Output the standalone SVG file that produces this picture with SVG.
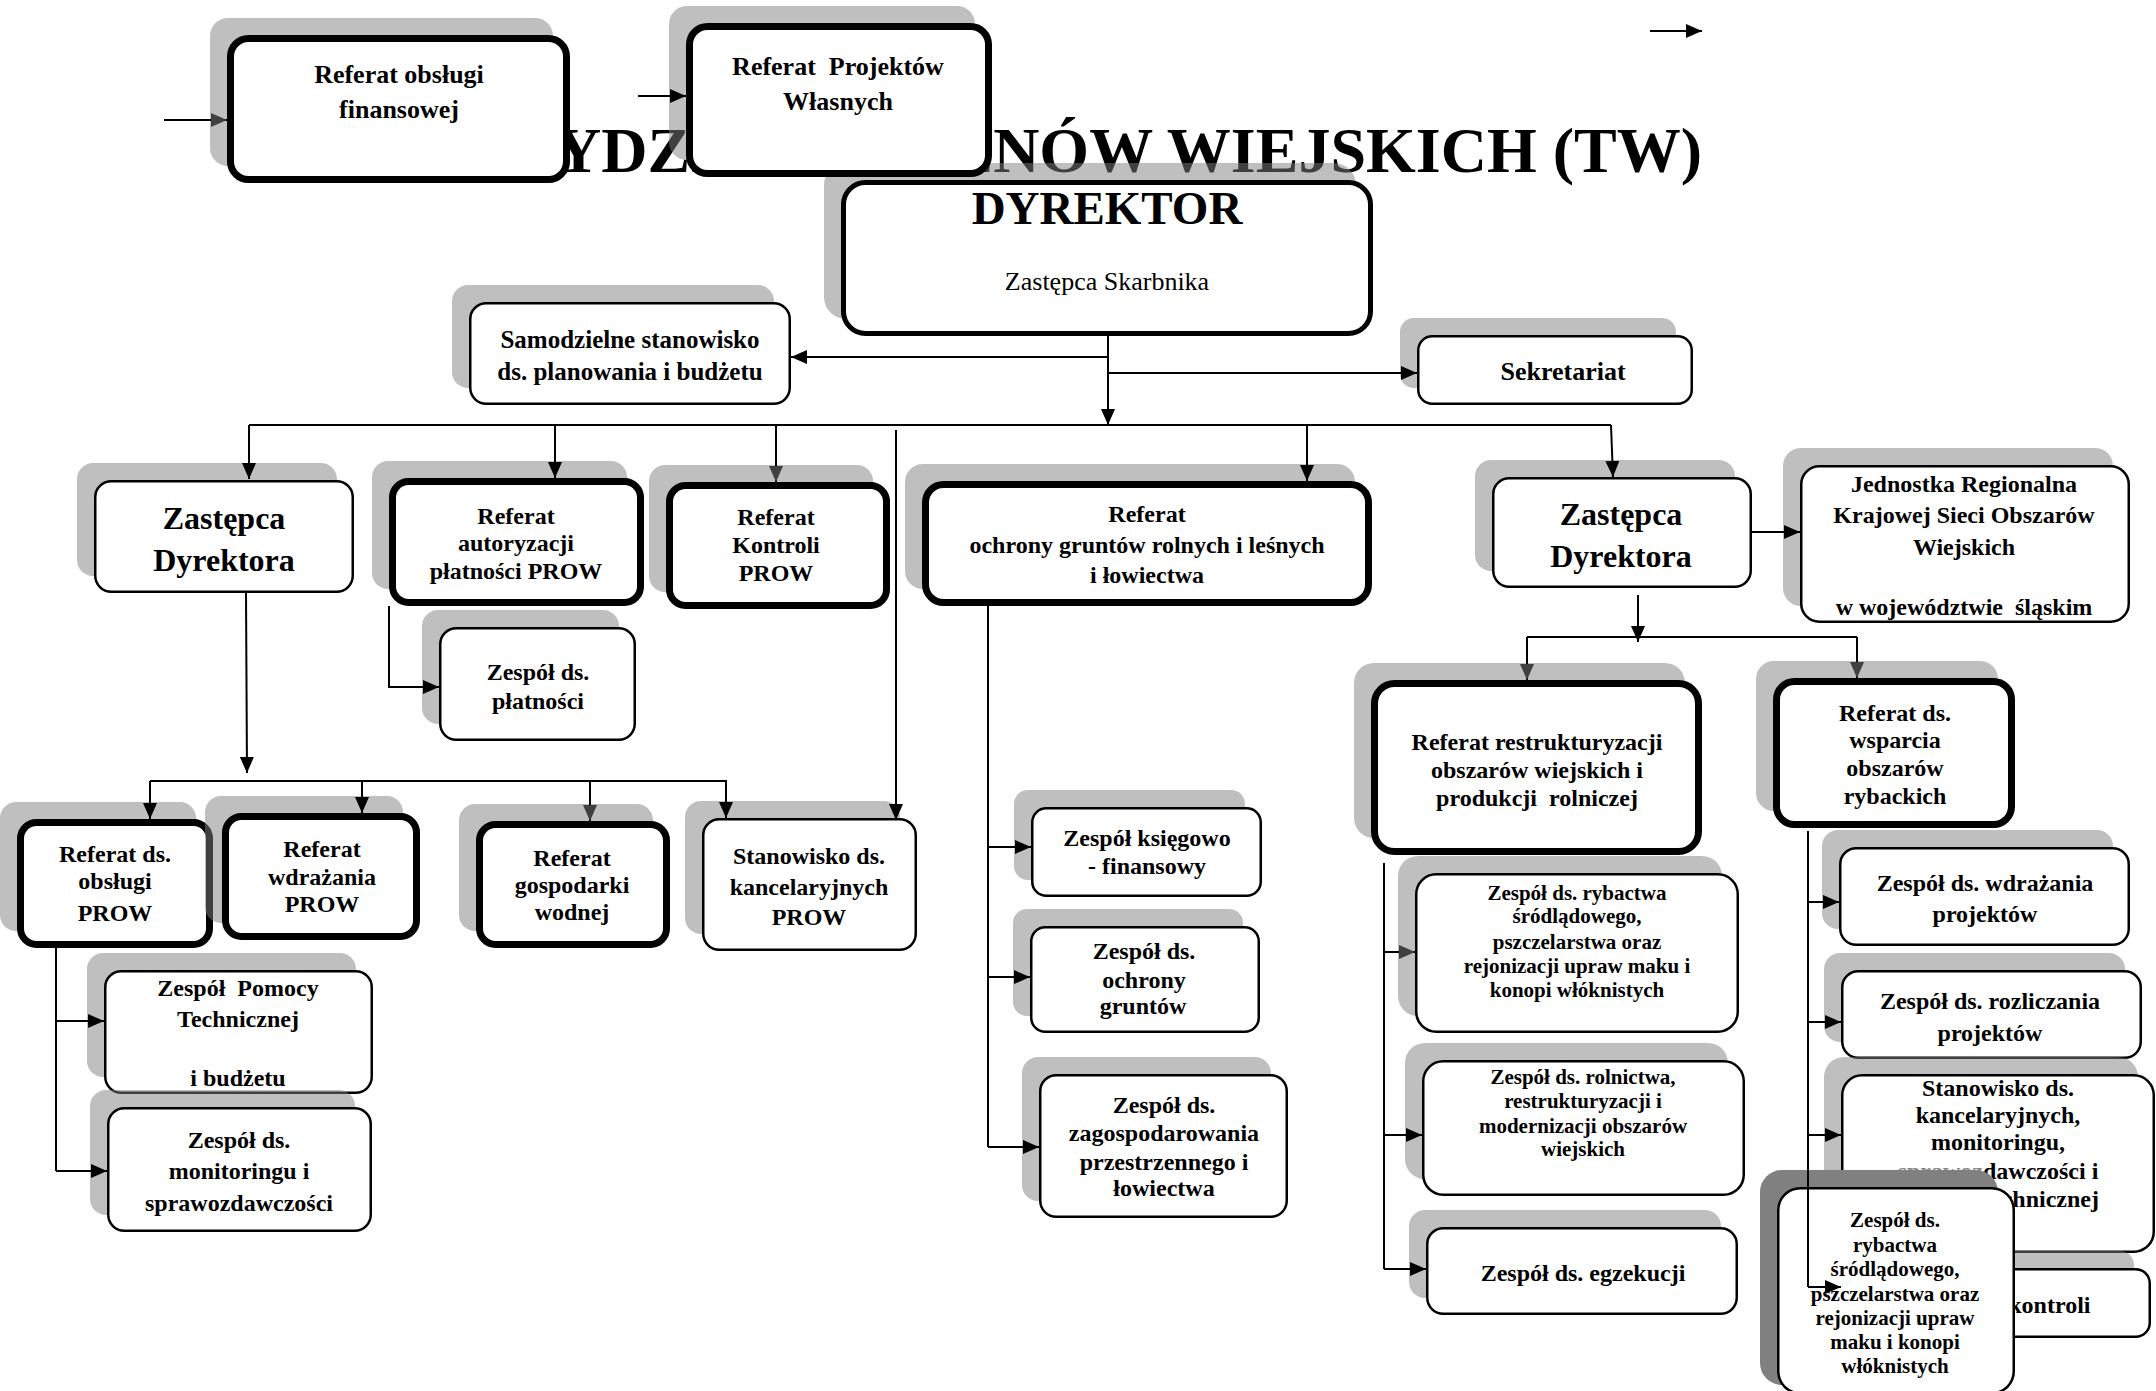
<svg xmlns="http://www.w3.org/2000/svg" width="2156" height="1391" viewBox="0 0 2156 1391">
<defs>
<style>
.sh{fill:#808080;fill-opacity:0.5}
.shd{fill:#808080}
.bx{fill:#fff;stroke:#000;stroke-width:2.5}
.tk{stroke-width:7}
.t{font-family:"Liberation Serif","Times New Roman",serif;font-weight:bold;text-anchor:middle;fill:#000}
.reg{font-weight:normal}
.f21{font-size:21px}.f24{font-size:24px}.f25{font-size:25px}.f26{font-size:26px}.f32{font-size:32px}.f47{font-size:47px}
.cn{fill:none;stroke:#000;stroke-width:2}
</style>
<marker id="ab" markerUnits="userSpaceOnUse" markerWidth="16" markerHeight="14" refX="16" refY="7" orient="auto"><path d="M0,0L16,7L0,14z" fill="#000"/></marker>
<marker id="ag" markerUnits="userSpaceOnUse" markerWidth="16" markerHeight="14" refX="16" refY="7" orient="auto"><path d="M0,0L16,7L0,14z" fill="#404040"/></marker>
</defs>
<rect width="2156" height="1391" fill="#fff"/>

<text id="title" class="t" x="1702" y="172" style="font-size:64px;text-anchor:end">WYDZIAŁ TERENÓW WIEJSKICH (TW)</text>

<g id="dyrektor">
<rect class="sh" x="824" y="163" width="532" height="156" rx="22"/>
<rect class="bx" style="stroke-width:5" x="843.5" y="182.5" width="527" height="151" rx="22"/>
<text class="t f47" x="1107" y="224">DYREKTOR</text>
<text class="t f26 reg" x="1107" y="290">Zastępca Skarbnika</text>
</g>

<g id="samodzielne">
<rect class="sh" x="452" y="285" width="322" height="103" rx="16"/>
<rect class="bx" x="470.25" y="303.25" width="319.5" height="100.5" rx="16"/>
<text class="t f25" x="630" y="348">Samodzielne stanowisko</text>
<text class="t f25" x="630" y="380">ds. planowania i budżetu</text>
</g>

<g id="sekretariat">
<rect class="sh" x="1400" y="318" width="276" height="70" rx="14"/>
<rect class="bx" x="1418.25" y="336.25" width="273.5" height="67.5" rx="14"/>
<text class="t f26" x="1563" y="380">Sekretariat</text>
</g>

<g id="zastepca-l">
<rect class="sh" x="77" y="463" width="260" height="113" rx="16"/>
<rect class="bx" x="95.25" y="481.25" width="257.5" height="110.5" rx="16"/>
<text class="t f32" x="224" y="529">Zastępca</text>
<text class="t f32" x="224" y="571">Dyrektora</text>
</g>

<g id="ref-autoryzacji">
<rect class="sh" x="372" y="461" width="255" height="128" rx="16"/>
<rect class="bx tk" x="392.5" y="481.5" width="248" height="121" rx="16"/>
<text class="t f24" x="516" y="524">Referat</text>
<text class="t f24" x="516" y="551">autoryzacji</text>
<text class="t f24" x="516" y="579">płatności PROW</text>
</g>

<g id="ref-kontroli">
<rect class="sh" x="649" y="465" width="224" height="127" rx="16"/>
<rect class="bx tk" x="669.5" y="485.5" width="217" height="120" rx="16"/>
<text class="t f24" x="776" y="525">Referat</text>
<text class="t f24" x="776" y="553">Kontroli</text>
<text class="t f24" x="776" y="581">PROW</text>
</g>

<g id="ref-ochrony">
<rect class="sh" x="905" y="464" width="450" height="125" rx="18"/>
<rect class="bx tk" x="925.5" y="484.5" width="443" height="118" rx="18"/>
<text class="t f24" x="1147" y="522">Referat</text>
<text class="t f24" x="1147" y="553">ochrony gruntów rolnych i leśnych</text>
<text class="t f24" x="1147" y="583">i łowiectwa</text>
</g>

<g id="zastepca-r">
<rect class="sh" x="1475" y="460" width="260" height="111" rx="16"/>
<rect class="bx" x="1493.25" y="478.25" width="257.5" height="108.5" rx="16"/>
<text class="t f32" x="1621" y="525">Zastępca</text>
<text class="t f32" x="1621" y="567">Dyrektora</text>
</g>

<g id="jednostka">
<rect class="sh" x="1783" y="448" width="330" height="158" rx="18"/>
<rect class="bx" x="1801.25" y="466.25" width="327.5" height="155.5" rx="18"/>
<text class="t f24" x="1964" y="492">Jednostka Regionalna</text>
<text class="t f24" x="1964" y="523">Krajowej Sieci Obszarów</text>
<text class="t f24" x="1964" y="555">Wiejskich</text>
<text class="t f24" x="1964" y="615">w województwie &#160;śląskim</text>
</g>

<g id="zespol-platnosci">
<rect class="sh" x="422" y="610" width="197" height="114" rx="16"/>
<rect class="bx" x="440.25" y="628.25" width="194.5" height="111.5" rx="16"/>
<text class="t f24" x="538" y="680">Zespół ds.</text>
<text class="t f24" x="538" y="709">płatności</text>
</g>

<g id="ref-restrukturyzacji">
<rect class="sh" x="1354" y="663" width="331" height="175" rx="20"/>
<rect class="bx tk" x="1374.5" y="683.5" width="324" height="168" rx="20"/>
<text class="t f24" x="1537" y="750">Referat restrukturyzacji</text>
<text class="t f24" x="1537" y="778">obszarów wiejskich i</text>
<text class="t f24" x="1537" y="806">produkcji &#160;rolniczej</text>
</g>

<g id="ref-wsparcia">
<rect class="sh" x="1756" y="661" width="242" height="150" rx="18"/>
<rect class="bx tk" x="1776.5" y="681.5" width="235" height="143" rx="18"/>
<text class="t f24" x="1895" y="721">Referat ds.</text>
<text class="t f24" x="1895" y="748">wsparcia</text>
<text class="t f24" x="1895" y="776">obszarów</text>
<text class="t f24" x="1895" y="804">rybackich</text>
</g>

<g id="ref-obslugi-prow">
<rect class="sh" x="0" y="802" width="196" height="129" rx="16"/>
<rect class="bx tk" x="20.5" y="822.5" width="189" height="122" rx="16"/>
<text class="t f24" x="115" y="862">Referat ds.</text>
<text class="t f24" x="115" y="889">obsługi</text>
<text class="t f24" x="115" y="921">PROW</text>
</g>

<g id="ref-wdrazania-prow">
<rect class="sh" x="205" y="796" width="198" height="127" rx="16"/>
<rect class="bx tk" x="225.5" y="816.5" width="191" height="120" rx="16"/>
<text class="t f24" x="322" y="857">Referat</text>
<text class="t f24" x="322" y="885">wdrażania</text>
<text class="t f24" x="322" y="912">PROW</text>
</g>

<g id="ref-gospodarki">
<rect class="sh" x="459" y="804" width="194" height="127" rx="16"/>
<rect class="bx tk" x="479.5" y="824.5" width="187" height="120" rx="16"/>
<text class="t f24" x="572" y="866">Referat</text>
<text class="t f24" x="572" y="893">gospodarki</text>
<text class="t f24" x="572" y="920">wodnej</text>
</g>

<g id="stanowisko-prow">
<rect class="sh" x="685" y="801" width="215" height="133" rx="16"/>
<rect class="bx" x="703.25" y="819.25" width="212.5" height="130.5" rx="16"/>
<text class="t f24" x="809" y="864">Stanowisko ds.</text>
<text class="t f24" x="809" y="895">kancelaryjnych</text>
<text class="t f24" x="809" y="925">PROW</text>
</g>

<g id="zespol-pomocy">
<rect class="sh" x="87" y="953" width="269" height="124" rx="16"/>
<rect class="bx" x="105.25" y="971.25" width="266.5" height="121.5" rx="16"/>
<text class="t f24" x="238" y="996">Zespół &#160;Pomocy</text>
<text class="t f24" x="238" y="1027">Technicznej</text>
<text class="t f24" x="238" y="1086">i budżetu</text>
</g>

<g id="zespol-monitoringu">
<rect class="sh" x="90" y="1090" width="265" height="125" rx="16"/>
<rect class="bx" x="108.25" y="1108.25" width="262.5" height="122.5" rx="16"/>
<text class="t f24" x="239" y="1148">Zespół ds.</text>
<text class="t f24" x="239" y="1179">monitoringu i</text>
<text class="t f24" x="239" y="1211">sprawozdawczości</text>
</g>

<g id="zespol-ksiegowo">
<rect class="sh" x="1014" y="790" width="231" height="90" rx="14"/>
<rect class="bx" x="1032.25" y="808.25" width="228.5" height="87.5" rx="14"/>
<text class="t f24" x="1147" y="846">Zespół księgowo</text>
<text class="t f24" x="1147" y="874">- finansowy</text>
</g>

<g id="zespol-ochrony">
<rect class="sh" x="1013" y="909" width="230" height="107" rx="14"/>
<rect class="bx" x="1031.25" y="927.25" width="227.5" height="104.5" rx="14"/>
<text class="t f24" x="1144" y="959">Zespół ds.</text>
<text class="t f24" x="1144" y="988">ochrony</text>
<text class="t f24" x="1143" y="1014">gruntów</text>
</g>

<g id="zespol-zagospodarowania">
<rect class="sh" x="1022" y="1057" width="249" height="144" rx="16"/>
<rect class="bx" x="1040.25" y="1075.25" width="246.5" height="141.5" rx="16"/>
<text class="t f24" x="1164" y="1113">Zespół ds.</text>
<text class="t f24" x="1164" y="1141">zagospodarowania</text>
<text class="t f24" x="1164" y="1170">przestrzennego i</text>
<text class="t f24" x="1164" y="1196">łowiectwa</text>
</g>

<g id="zespol-rybactwa">
<rect class="sh" x="1398" y="856" width="324" height="160" rx="20"/>
<rect class="bx" x="1416.25" y="874.25" width="321.5" height="157.5" rx="20"/>
<text class="t f21" x="1577" y="900">Zespół ds. rybactwa</text>
<text class="t f21" x="1577" y="923">śródlądowego,</text>
<text class="t f21" x="1577" y="949">pszczelarstwa oraz</text>
<text class="t f21" x="1577" y="973">rejonizacji upraw maku i</text>
<text class="t f21" x="1577" y="997">konopi włóknistych</text>
</g>

<g id="zespol-rolnictwa">
<rect class="sh" x="1405" y="1043" width="323" height="136" rx="20"/>
<rect class="bx" x="1423.25" y="1061.25" width="320.5" height="133.5" rx="20"/>
<text class="t f21" x="1583" y="1084">Zespół ds. rolnictwa,</text>
<text class="t f21" x="1583" y="1108">restrukturyzacji i</text>
<text class="t f21" x="1583" y="1133">modernizacji obszarów</text>
<text class="t f21" x="1583" y="1156">wiejskich</text>
</g>

<g id="zespol-egzekucji">
<rect class="sh" x="1409" y="1210" width="312" height="88" rx="16"/>
<rect class="bx" x="1427.25" y="1228.25" width="309.5" height="85.5" rx="16"/>
<text class="t f24" x="1583" y="1281">Zespół ds. egzekucji</text>
</g>

<g id="zespol-wdrazania">
<rect class="sh" x="1822" y="830" width="291" height="99" rx="16"/>
<rect class="bx" x="1840.25" y="848.25" width="288.5" height="96.5" rx="16"/>
<text class="t f24" x="1985" y="891">Zespół ds. wdrażania</text>
<text class="t f24" x="1985" y="922">projektów</text>
</g>

<g id="zespol-rozliczania">
<rect class="sh" x="1824" y="953" width="301" height="89" rx="16"/>
<rect class="bx" x="1842.25" y="971.25" width="298.5" height="86.5" rx="16"/>
<text class="t f24" x="1990" y="1009">Zespół ds. rozliczania</text>
<text class="t f24" x="1990" y="1041">projektów</text>
</g>

<g id="stanowisko-kancelaryjnych">
<rect class="sh" x="1824" y="1057" width="314" height="179" rx="20"/>
<rect class="bx" x="1842.25" y="1075.25" width="311.5" height="176.5" rx="20"/>
<text class="t f24" x="1998" y="1096">Stanowisko ds.</text>
<text class="t f24" x="1998" y="1123">kancelaryjnych,</text>
<text class="t f24" x="1998" y="1150">monitoringu,</text>
<text class="t f24" x="1998" y="1179"><tspan fill="#8a8a8a">sprawoz</tspan>dawczości i</text>
<text class="t f24" x="1998" y="1207">pomocy technicznej</text>
</g>

<g id="zespol-kontroli">
<rect class="sh" x="1824" y="1251" width="310" height="70" rx="14"/>
<rect class="bx" x="1842.25" y="1269.25" width="307.5" height="67.5" rx="14"/>
<text class="t f24" x="1995" y="1313">Zespół ds. kontroli</text>
</g>

<g id="zespol-rybactwa-2">
<rect class="shd" x="1760" y="1170" width="238" height="215" rx="22"/>
<rect class="bx" x="1778.25" y="1188.25" width="235.5" height="205" rx="22"/>
<text class="t f21" x="1895" y="1227">Zespół ds.</text>
<text class="t f21" x="1895" y="1252">rybactwa</text>
<text class="t f21" x="1895" y="1276">śródlądowego,</text>
<text class="t f21" x="1895" y="1301">pszczelarstwa oraz</text>
<text class="t f21" x="1895" y="1325">rejonizacji upraw</text>
<text class="t f21" x="1895" y="1349">maku i konopi</text>
<text class="t f21" x="1895" y="1373">włóknistych</text>
</g>

<g id="ref-finansowej">
<rect class="sh" x="210" y="18" width="343" height="148" rx="18"/>
<rect class="bx tk" x="230.5" y="38.5" width="336" height="141" rx="18"/>
<text class="t f26" x="399" y="83">Referat obsługi</text>
<text class="t f26" x="399" y="118">finansowej</text>
</g>

<g id="ref-projektow">
<rect class="sh" x="669" y="6" width="306" height="154" rx="18"/>
<rect class="bx tk" x="689.5" y="26.5" width="299" height="147" rx="18"/>
<text class="t f26" x="838" y="75">Referat &#160;Projektów</text>
<text class="t f26" x="838" y="110">Własnych</text>
</g>

<g id="connectors" class="cn">
<path d="M164,120H227" marker-end="url(#ag)"/>
<path d="M638,96H686" marker-end="url(#ab)"/>
<path d="M1650,31H1702" marker-end="url(#ab)"/>
<path d="M1108,336V425" marker-end="url(#ab)"/>
<path d="M1108,357H791" marker-end="url(#ab)"/>
<path d="M1108,373H1417" marker-end="url(#ab)"/>
<path d="M249,425H1611"/>
<path d="M249,425V479" marker-end="url(#ab)"/>
<path d="M555,425V478" marker-end="url(#ab)"/>
<path d="M776,425V482" marker-end="url(#ag)"/>
<path d="M1307,425V481" marker-end="url(#ab)"/>
<path d="M1611,425L1613,477" marker-end="url(#ab)"/>
<path d="M896,430V820" marker-end="url(#ab)"/>
<path d="M389,606V687H439" marker-end="url(#ab)"/>
<path d="M246,593L247,773" marker-end="url(#ab)"/>
<path d="M150,781H727"/>
<path d="M150,781V819" marker-end="url(#ab)"/>
<path d="M362,781V813" marker-end="url(#ab)"/>
<path d="M590,781V821" marker-end="url(#ag)"/>
<path d="M726,781V818" marker-end="url(#ab)"/>
<path d="M56,948V1171"/>
<path d="M56,1021H104" marker-end="url(#ab)"/>
<path d="M56,1171H107" marker-end="url(#ab)"/>
<path d="M988,606V1147"/>
<path d="M988,847H1031" marker-end="url(#ab)"/>
<path d="M988,977H1030" marker-end="url(#ab)"/>
<path d="M988,1147H1039" marker-end="url(#ab)"/>
<path d="M1752,532H1800" marker-end="url(#ab)"/>
<path d="M1638,595V642" marker-end="url(#ab)"/>
<path d="M1527,637H1857"/>
<path d="M1527,637V680" marker-end="url(#ag)"/>
<path d="M1857,637V678" marker-end="url(#ag)"/>
<path d="M1384,863V1269"/>
<path d="M1384,952H1415" marker-end="url(#ag)"/>
<path d="M1384,1135H1422" marker-end="url(#ab)"/>
<path d="M1384,1269H1426" marker-end="url(#ab)"/>
<path d="M1808,831V1287"/>
<path d="M1808,902H1839" marker-end="url(#ab)"/>
<path d="M1808,1022H1841" marker-end="url(#ab)"/>
<path d="M1808,1135H1841" marker-end="url(#ab)"/>
<path d="M1808,1287H1841" marker-end="url(#ab)"/>
</g>
</svg>
